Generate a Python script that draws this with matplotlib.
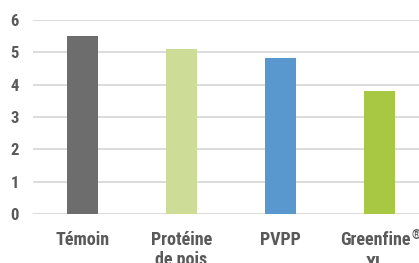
import matplotlib
matplotlib.use("Agg")
import matplotlib.pyplot as plt
from matplotlib import font_manager
from matplotlib.transforms import ScaledTranslation

categories = ["Témoin", "Protéine\nde pois", "PVPP", "Greenfine\nXL"]
values = [5.5, 5.1, 4.83, 3.8]
colors = ["#6d6d6d", "#cddc96", "#5898cf", "#a8c843"]

names = {f.name for f in font_manager.fontManager.ttflist}
fam = "DejaVu Sans"
for cand in ["Roboto Condensed", "Barlow Condensed", "Archivo Narrow", "Asap Condensed"]:
    if cand in names:
        fam = cand
        break
plt.rcParams["font.family"] = [fam, "DejaVu Sans"]

fig = plt.figure(figsize=(4.19, 2.63), dpi=100)
# axes spans past the right edge: the original is cropped there
ax = fig.add_axes([33 / 419, (263 - 214) / 263, 396 / 419, 194 / 263])

x = range(len(categories))
ax.bar(x, values, width=0.32, color=colors, zorder=3)

ax.set_xlim(-0.5, 3.5)
ax.set_ylim(0, 6)
ax.set_yticks(range(7))
ax.yaxis.grid(True, color="#d9d9d9", linewidth=1.3, zorder=0)
ax.set_xticks(list(x))
ax.set_xticklabels(categories, fontsize=13, fontweight="bold", color="#595959",
                   linespacing=1.15, va="top")
for lab in ax.get_yticklabels():
    lab.set_fontweight("bold")
ax.tick_params(axis="y", labelsize=12, labelcolor="#595959", length=0, pad=10)
ax.tick_params(axis="x", length=0, pad=12)
for s in ax.spines.values():
    s.set_visible(False)

# registered sign as a small superscript after "Greenfine"
gl = ax.get_xticklabels()[3]
gl.set_linespacing(1.45)
gl.set_transform(gl.get_transform() + ScaledTranslation(-3 / 72, 0, fig.dpi_scale_trans))
ax.annotate("®", xy=(1, 1), xycoords=gl, xytext=(0.3, 1), textcoords="offset points",
            ha="left", va="top", fontsize=8.5, fontweight="bold", color="#595959")

fig.savefig("out.png", dpi=100)
